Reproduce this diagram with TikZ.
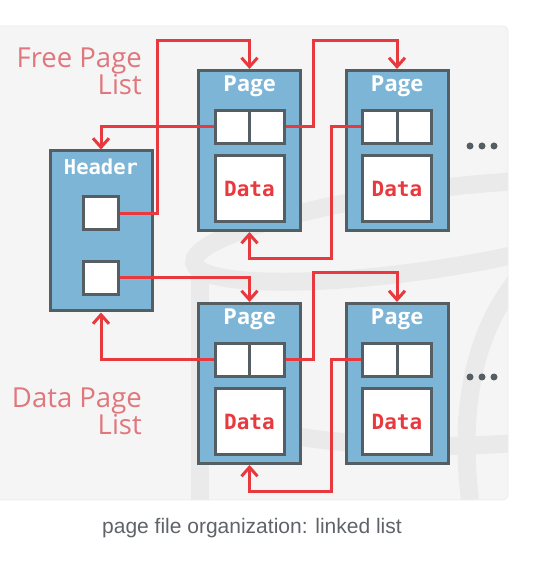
\documentclass[tikz,border=0pt]{standalone}
\usepackage{fontspec}
\usetikzlibrary{arrows.meta}
\setmainfont{Open Sans}
\newfontfamily\codefont{DejaVu Sans Mono}
\newfontfamily\capfont{Liberation Sans}
\definecolor{panel}{HTML}{F5F5F5}
\definecolor{ghost}{HTML}{EAEAEA}
\definecolor{boxblue}{HTML}{7DB5D7}
\definecolor{edge}{HTML}{555E63}
\definecolor{link}{HTML}{E8393F}
\definecolor{listred}{HTML}{E0777D}
\definecolor{capgray}{HTML}{5F6368}

\begin{document}
\begin{tikzpicture}[x=1pt, y=1pt,
    block/.style={draw=edge, line width=3pt, fill=boxblue, minimum width=102pt, minimum height=160pt, inner sep=0pt},
    cell/.style={draw=edge, line width=3pt, fill=white, minimum width=34.5pt, minimum height=33pt, inner sep=0pt},
    datacell/.style={cell, minimum width=69pt, minimum height=66pt, text=link, font=\codefont\bfseries\fontsize{21}{24}\selectfont},
    title/.style={text=white, inner sep=0pt},
    listname/.style={text=listred, align=right, inner sep=0pt, font=\fontsize{27.5}{27}\selectfont},
    ptr/.style={draw=link, line width=3pt, -{Straight Barb[length=9pt,width=16pt]}}
]

    % the frame
    \useasboundingbox (0,0) rectangle (547,566);
    \filldraw[fill=panel, draw=black!8, line width=0.8pt, rounded corners=5pt] (-10,66) rectangle (508,540);

    % the disk behind
    \begin{scope}
        \clip[rounded corners=5pt] (0,66) rectangle (508,540);
        \draw[ghost, line width=18pt, rotate around={8:(420,335)}] (420,335) ellipse [x radius=228, y radius=40];
        \draw[ghost, line width=18pt] (200,300) -- (200,66);
        \draw[ghost, line width=18pt] (200,170) arc[start angle=180, end angle=320, x radius=235, y radius=50];
        \draw[ghost, line width=18pt] (470,66) .. controls (460,150) and (470,230) .. (520,290);
    \end{scope}

    % the header
    \node[block] (hd) at (101,335) {};
    \node[title, font=\codefont\bfseries\fontsize{20.5}{24}\selectfont] (hd-t) at (101,399) {Header};
    \node[cell] (hb1) at (101,352.5) {};
    \node[cell] (hb2) at (101,288) {};

    % the pages
    \foreach \p/\x/\y in {p1/249.5/415.5, p2/397/415.5, p3/249.5/182.5, p4/397/182.5} {
        \node[block] (\p) at (\x,\y) {};
        \node[title, font=\bfseries\fontsize{22}{26}\selectfont] (\p-t) at (\x,\y+64) {Page};
        \node[cell] (\p-l) at (\x-17.25,\y+23.5) {};
        \node[cell] (\p-r) at (\x+17.25,\y+23.5) {};
        \node[datacell] (\p-d) at (\x,\y-38) {Data};
    }

    % more pages
    \foreach \y in {420,189} {
        \foreach \x in {470,482,494} {
            \fill[edge] (\x,\y) circle[radius=3.5pt];
        }
    }

    % free list
    \node[listname, anchor=north east] (free) at (142,518) {Free Page\\List};
    \draw[ptr] (hb1.east) -- ++(38,0) |- ([yshift=28pt]p1.north) -- (p1.north);
    \draw[ptr] (p1-l.west) -| (hd.north);
    \draw[ptr] (p1-r.east) -- ++(28,0) |- ([yshift=28pt]p2.north) -- (p2.north);
    \draw[ptr] (p2-l.west) -- ++(-30,0) |- ([yshift=-27pt]p1.south) -- (p1.south);

    % data list
    \node[listname, anchor=north east] (data) at (142,178) {Data Page\\List};
    \draw[ptr] (hb2.east) -| (p3.north);
    \draw[ptr] (p3-l.west) -| (hd.south);
    \draw[ptr] (p3-r.east) -- ++(28,0) |- ([yshift=29pt]p4.north) -- (p4.north);
    \draw[ptr] (p4-l.west) -- ++(-30,0) |- ([yshift=-27pt]p3.south) -- (p3.south);

    % caption
    \node[text=capgray, font=\capfont\fontsize{21}{24}\selectfont] (cap) at (252,38) {page file organization: linked list};
\end{tikzpicture}
\end{document}
